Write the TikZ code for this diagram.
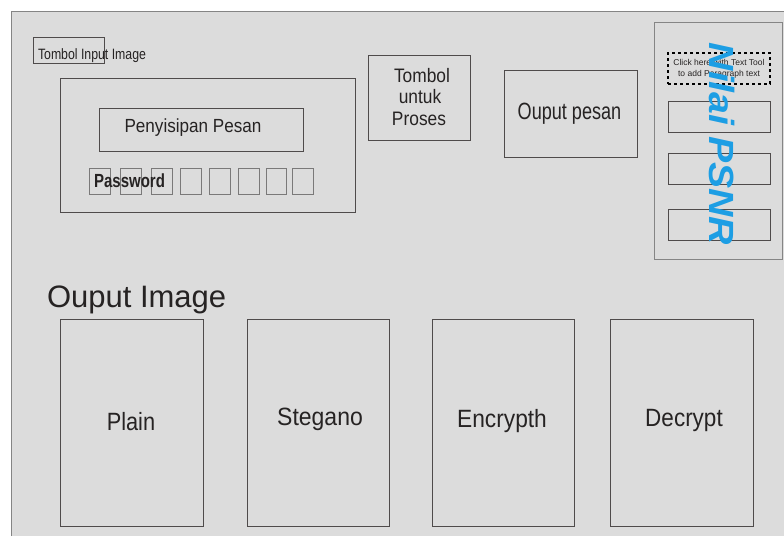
\documentclass[tikz,border=0pt]{standalone}
\usepackage{fontspec}
\setmainfont{Liberation Sans}
\usetikzlibrary{fit}
\definecolor{screenbg}{HTML}{DCDCDC}
\definecolor{edge}{HTML}{4F4B4B}
\definecolor{softedge}{HTML}{858585}
\definecolor{ink}{HTML}{262323}
\definecolor{psnrblue}{HTML}{1D9EE4}
\newcommand{\fs}[1]{\fontsize{#1}{#1}\selectfont}
\newcommand{\narrow}[2]{\scalebox{#1}[1]{#2}}
\tikzset{
  frame/.style={draw=edge, line width=0.9pt, inner sep=0pt, outer sep=0pt},
  cell/.style={draw=softedge!80!edge, line width=0.9pt, inner sep=0pt, outer sep=0pt},
  label/.style={inner sep=0pt, outer sep=0pt, text=ink},
}
\begin{document}
\begin{tikzpicture}[x=1pt,y=-1pt]
\useasboundingbox (0,0) rectangle (784,536);
\fill[white] (0,0) rectangle (784,536);

% screen area
\node[fit={(11,11) (784,536)}, fill=screenbg, inner sep=0pt, outer sep=0pt] (screen) {};
\draw[softedge, line width=1pt] (screen.south west) -- (screen.north west) -- (screen.north east);

% image input button
\node[frame, fit={(33,37) (104,63)}] (inbtn) {};
\node[label, anchor=base west] (inlbl) at (38,59.5) {\fs{15}\narrow{0.82}{Tombol Input Image}};

% message embedding panel
\node[frame, fit={(60,78) (355,212)}] (panel) {};
\node[frame, fit={(99,108) (303,151)}] (msgbox) {};
\node[label, anchor=base] (msglbl) at (193,132) {\fs{19}\narrow{0.9}{Penyisipan Pesan}};

% password cells
\node[cell, fit={(89,168) (110,194)}] (c1) {};
\node[cell, fit={(120,168) (141,194)}] (c2) {};
\node[cell, fit={(151,168) (172,194)}] (c3) {};
\node[cell, fit={(180,168) (201,194)}] (c4) {};
\node[cell, fit={(209,168) (230,194)}] (c5) {};
\node[cell, fit={(238,168) (259,194)}] (c6) {};
\node[cell, fit={(266,168) (286,194)}] (c7) {};
\node[cell, fit={(292,168) (313,194)}] (c8) {};
\node[label, anchor=base] (pwlbl) at (129.5,187) {\fs{19}\narrow{0.79}{\bfseries Password}};

% process button
\node[frame, fit={(368,55) (470,140)}] (procbtn) {};
\node[label, anchor=base] (proc1) at (422,82) {\fs{19.5}\narrow{0.89}{Tombol}};
\node[label, anchor=base] (proc2) at (420,103.5) {\fs{19.5}\narrow{0.89}{untuk}};
\node[label, anchor=base] (proc3) at (419,125) {\fs{19.5}\narrow{0.89}{Proses}};

% message output
\node[frame, fit={(504,70) (637,157)}] (outmsg) {};
\node[label, anchor=base] (outlbl) at (569.5,119) {\fs{23.5}\narrow{0.77}{Ouput pesan}};

% PSNR panel
\node[draw=softedge, line width=0.9pt, inner sep=0pt, outer sep=0pt, fit={(654,22) (782,259)}] (psnr) {};
\node[draw=black, dashed, line width=1.1pt, inner sep=0pt, outer sep=0pt, fit={(668,53) (770,84)}] (para) {};
\node[label, align=center, font=\fs{8.5}] (paralbl) at (719,68.5) {Click here with Text Tool\\[2.5pt]to add Paragraph text};
\node[frame, fit={(668,101) (770,132)}] (p1) {};
\node[frame, fit={(668,153) (770,184)}] (p2) {};
\node[frame, fit={(668,209) (770,240)}] (p3) {};
\node[inner sep=0pt, rotate=-90, text=psnrblue] (psnrlbl) at (722,144)
  {\fs{35}\scalebox{1.12}[1]{\bfseries\itshape Nilai PSNR}};

% image outputs
\node[label, anchor=base west] (imgtitle) at (47,307) {\fs{31}Ouput Image};
\node[frame, fit={(60,319) (203,526)}] (plain) {};
\node[label, anchor=base] (plainlbl) at (131,430) {\fs{25}\narrow{0.87}{Plain}};
\node[frame, fit={(247,319) (389,526)}] (steg) {};
\node[label, anchor=base] (steglbl) at (320,425) {\fs{25}\narrow{0.92}{Stegano}};
\node[frame, fit={(432,319) (574,526)}] (enc) {};
\node[label, anchor=base] (enclbl) at (502,427) {\fs{25}\narrow{0.91}{Encrypth}};
\node[frame, fit={(610,319) (753,526)}] (dec) {};
\node[label, anchor=base] (declbl) at (684,426) {\fs{25}\narrow{0.9}{Decrypt}};
\end{tikzpicture}
\end{document}
